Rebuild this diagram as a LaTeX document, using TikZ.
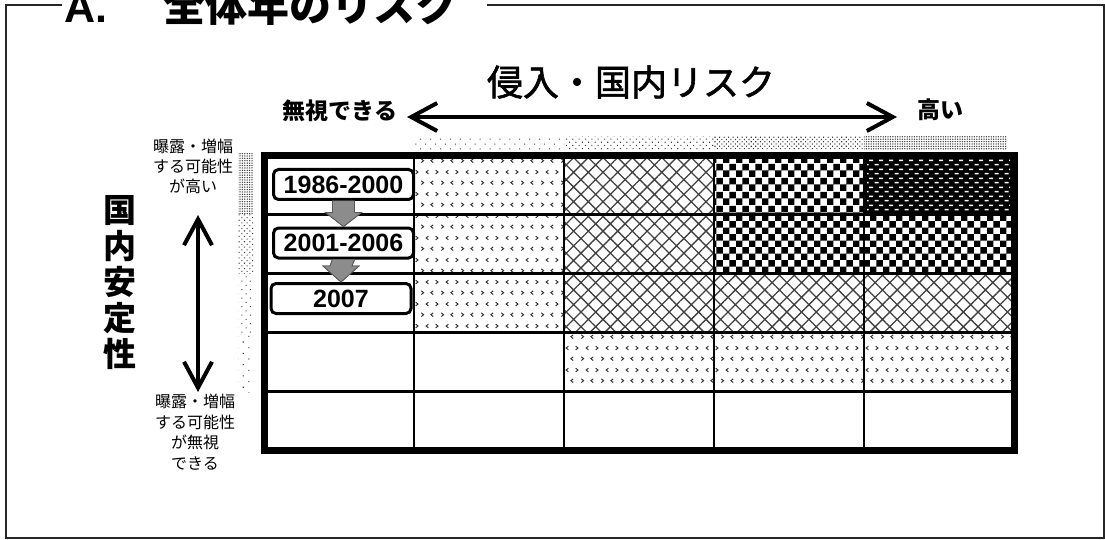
\documentclass[tikz,border=0pt]{standalone}
\usepackage{fontspec}
\setmainfont{Liberation Sans}
\newfontfamily\jp{Noto Sans CJK JP}
\newfontfamily\jpm{Noto Sans CJK JP}[FakeBold=1.6]
\usetikzlibrary{arrows.meta,patterns,patterns.meta,calc}

\pgfdeclarepatternformonly{checkerpat}{\pgfqpoint{0pt}{0pt}}{\pgfqpoint{13.4pt}{13.4pt}}{\pgfqpoint{13.4pt}{13.4pt}}{%
  \pgfpathrectangle{\pgfqpoint{0pt}{0pt}}{\pgfqpoint{6.7pt}{6.7pt}}%
  \pgfpathrectangle{\pgfqpoint{6.7pt}{6.7pt}}{\pgfqpoint{6.7pt}{6.7pt}}%
  \pgfusepathqfill}

\pgfdeclarepatternformonly{dashpat}{\pgfqpoint{0pt}{0pt}}{\pgfqpoint{9.6pt}{9.4pt}}{\pgfqpoint{9.6pt}{9.4pt}}{%
  \pgfpathrectangle{\pgfqpoint{0.6pt}{1.6pt}}{\pgfqpoint{4.2pt}{1.6pt}}%
  \pgfpathrectangle{\pgfqpoint{5.4pt}{6.3pt}}{\pgfqpoint{4.2pt}{1.6pt}}%
  \pgfusepathqfill}

\pgfdeclarepatternformonly{chevpat}{\pgfqpoint{0pt}{0pt}}{\pgfqpoint{20pt}{22pt}}{\pgfqpoint{20pt}{22pt}}{%
  \pgfsetlinewidth{1pt}%
  \pgfpathmoveto{\pgfqpoint{1.4pt}{7.4pt}}\pgfpathlineto{\pgfqpoint{3.8pt}{5.5pt}}\pgfpathlineto{\pgfqpoint{1.4pt}{3.6pt}}%
  \pgfpathmoveto{\pgfqpoint{13.8pt}{7.4pt}}\pgfpathlineto{\pgfqpoint{11.4pt}{5.5pt}}\pgfpathlineto{\pgfqpoint{13.8pt}{3.6pt}}%
  \pgfpathmoveto{\pgfqpoint{8.8pt}{18.4pt}}\pgfpathlineto{\pgfqpoint{6.4pt}{16.5pt}}\pgfpathlineto{\pgfqpoint{8.8pt}{14.6pt}}%
  \pgfpathmoveto{\pgfqpoint{16.4pt}{18.4pt}}\pgfpathlineto{\pgfqpoint{18.8pt}{16.5pt}}\pgfpathlineto{\pgfqpoint{16.4pt}{14.6pt}}%
  \pgfusepathqstroke}

\tikzset{
  txt/.style={inner sep=0pt, outer sep=0pt},
  chevcell/.style={pattern=chevpat, pattern color=black!80},
  hatchcell/.style={pattern={Hatch[distance=10.4pt,angle=45,line width=1.3pt]}, pattern color=black!75},
  checkcell/.style={pattern=checkerpat, pattern color=black},
  innerline/.style={line width=2.8pt, black},
  biarrow/.style={line width=4pt, {Straight Barb[length=26pt,width=28pt]}-{Straight Barb[length=26pt,width=28pt]}},
  yearbox/.style={draw=black, fill=white, line width=3pt, rounded corners=5pt, minimum width=140pt, minimum height=30pt, inner sep=0pt, font=\bfseries\fontsize{25}{25}\selectfont},
  grayarr/.style={fill=black!45, draw=black!65, line width=0.8pt},
  frameline/.style={line width=1.3pt, black!85},
  dotcol/.style={pattern color=black!75},
}

\begin{document}
\begin{tikzpicture}[x=1pt,y=-1pt]
\useasboundingbox (0,0) rectangle (1105,540);

% outer frame
\draw[frameline] (62,5) -- (6,5) -- (6,538) -- (1104,538) -- (1104,5) -- (487,5);

% title
\node[txt, anchor=base west, font={\bfseries\fontsize{43}{43}\selectfont}] (tA) at (64,23) {A.};
\node[txt, anchor=base west, font={\jp\bfseries\fontsize{42}{42}\selectfont}] (tJ) at (163,22) {全体年のリスク};

% top gradient bar
\fill[dotcol, pattern={Dots[distance=7pt,angle=45,radius=0.7pt]}] (414,137) rectangle (564,150);
\fill[dotcol, pattern={Dots[distance=4.5pt,angle=45,radius=0.75pt]}] (564,137) rectangle (714,150);
\fill[dotcol, pattern={Dots[distance=3.2pt,angle=45,radius=0.75pt]}] (714,137) rectangle (864,150);
\fill[dotcol, pattern={Dots[distance=2.4pt,radius=0.75pt]}] (864,137) rectangle (1007,150);

% left gradient bar
\fill[dotcol, pattern={Dots[distance=2.4pt,radius=0.75pt]}] (238,154) rectangle (253,214.8);
\fill[dotcol, pattern={Dots[distance=3.8pt,angle=45,radius=0.75pt]}] (238,214.8) rectangle (253,273.6);
\fill[dotcol, pattern={Dots[distance=6pt,angle=45,radius=0.75pt]}] (238,273.6) rectangle (253,332.4);
\fill[dotcol, pattern={Dots[distance=8pt,angle=45,radius=0.75pt]}] (238,332.4) rectangle (253,392);

% cells row 1
\fill[chevcell] (414,156) rectangle (564,214.8);
\fill[hatchcell] (564,156) rectangle (714,214.8);
\fill[checkcell] (714,156) rectangle (864,214.8);
\fill[black] (864,156) rectangle (1014,214.8);
\fill[pattern=dashpat, pattern color=white] (867,160) rectangle (1010,212);
% row 2
\fill[chevcell] (414,214.8) rectangle (564,273.6);
\fill[hatchcell] (564,214.8) rectangle (714,273.6);
\fill[checkcell] (714,214.8) rectangle (864,273.6);
\fill[checkcell] (864,214.8) rectangle (1014,273.6);
% row 3
\fill[chevcell] (414,273.6) rectangle (564,332.4);
\fill[hatchcell] (564,273.6) rectangle (714,332.4);
\fill[hatchcell] (714,273.6) rectangle (864,332.4);
\fill[hatchcell] (864,273.6) rectangle (1014,332.4);
% row 4
\fill[chevcell] (564,332.4) rectangle (714,391.2);
\fill[chevcell] (714,332.4) rectangle (864,391.2);
\fill[chevcell] (864,332.4) rectangle (1014,391.2);

% grid
\foreach \x in {414,564,714,864} \draw[innerline] (\x,156) -- (\x,450);
\foreach \y in {214.8,273.6,332.4,391.2} \draw[innerline] (264,\y) -- (1014,\y);
\draw[line width=7pt] (264,156) rectangle (1014,450);

% year boxes
\node[yearbox] (b1) at (343.5,184.5) {1986-2000};
\node[yearbox] (b2) at (343.5,243) {2001-2006};
\node[yearbox] (b3) at (341,298.5) {2007};

\fill[grayarr] ($(b1.south)+(-11,0)$) -- ($(b2.north)+(-11,-14)$) -- ($(b2.north)+(-18,-14)$) -- (b2.north)
  -- ($(b2.north)+(18,-14)$) -- ($(b2.north)+(11,-14)$) -- ($(b1.south)+(11,0)$) -- cycle;
\draw[grayarr] ($(b1.south)+(-11,0)$) -- ($(b2.north)+(-11,-14)$) -- ($(b2.north)+(-18,-14)$) -- (b2.north)
  -- ($(b2.north)+(18,-14)$) -- ($(b2.north)+(11,-14)$) -- ($(b1.south)+(11,0)$);
\fill[grayarr] ($(b2.south)+(-11,0)$) -- ($(b3.north)+(-11,-16)$) -- ($(b3.north)+(-18,-16)$) -- (b3.north)
  -- ($(b3.north)+(18,-16)$) -- ($(b3.north)+(11,-16)$) -- ($(b2.south)+(11,0)$) -- cycle;
\draw[grayarr] ($(b2.south)+(-11,0)$) -- ($(b3.north)+(-11,-16)$) -- ($(b3.north)+(-18,-16)$) -- (b3.north)
  -- ($(b3.north)+(18,-16)$) -- ($(b3.north)+(11,-16)$) -- ($(b2.south)+(11,0)$);

% horizontal axis
\node[txt, font={\jpm\fontsize{36}{36}\selectfont}] (hx) at (631,82) {侵入・国内リスク};
\coordinate (hL) at (407,117);
\coordinate (hR) at (897,117);
\draw[biarrow] (hL) -- (hR);
\node[txt, anchor=east, font={\jp\bfseries\fontsize{23}{23}\selectfont}] (lo) at (397,111) {無視できる};
\node[txt, anchor=west, font={\jp\bfseries\fontsize{23}{23}\selectfont}] (hi) at (917,110) {高い};

% vertical axis
\node[txt, align=center, font={\jp\bfseries\fontsize{33}{36}\selectfont}] (vy) at (120,283) {国\\内\\安\\定\\性};
\coordinate (vT) at (198,215);
\coordinate (vB) at (198,392);
\draw[biarrow] (vT) -- (vB);
\node[txt, align=center, font={\jp\fontsize{16}{20}\selectfont}] (top) at (193,166) {曝露・増幅\\する可能性\\が高い};
\node[txt, align=center, font={\jp\fontsize{16}{20.5}\selectfont}] (bot) at (195,432) {曝露・増幅\\する可能性\\が無視\\できる};
\end{tikzpicture}
\end{document}
